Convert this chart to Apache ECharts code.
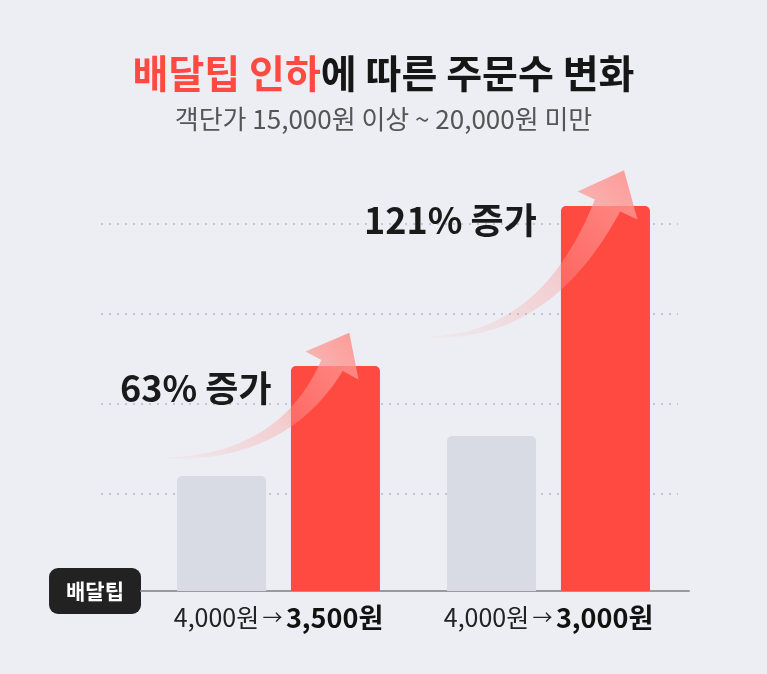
<!DOCTYPE html>
<html>
<head>
<meta charset="utf-8">
<script src="https://cdn.jsdelivr.net/npm/echarts@6/dist/echarts.min.js"></script>
<style>
html,body{margin:0;padding:0;background:#edeef3;}
#chart{width:767px;height:674px;}
</style>
</head>
<body>
<div id="chart"></div>
<script>
// 배달팁 변경 (전 -> 후)
const tipBefore = ['4,000원', '4,000원'];
const tipAfter = ['3,500원', '3,000원'];
// 주문수 (그림에서 읽은 상대값)
const beforeOrders = [115, 155];
const afterOrders = [225, 385];
const gridValues = [97, 187, 277, 367];
const increaseLabels = ['63% 증가', '121% 증가'];

const FONT = "'Noto Sans CJK KR', 'Noto Sans', sans-serif";

// 곡선 화살표 모양 (꼬리, 제어점, 머리 밑 중심)
function arrowPoints(p0, p1, p2, headLen, headHalf, w0, w1) {
  const left = [], right = [];
  const N = 40;
  for (let i = 0; i <= N; i++) {
    const t = i / N, u = 1 - t;
    const x = u*u*p0[0] + 2*u*t*p1[0] + t*t*p2[0];
    const y = u*u*p0[1] + 2*u*t*p1[1] + t*t*p2[1];
    let dx = 2*u*(p1[0]-p0[0]) + 2*t*(p2[0]-p1[0]);
    let dy = 2*u*(p1[1]-p0[1]) + 2*t*(p2[1]-p1[1]);
    const len = Math.sqrt(dx*dx+dy*dy);
    dx /= len; dy /= len;
    const w = (w0 + (w1 - w0) * Math.pow(t, 1.3)) / 2;
    left.push([x - dy*w, y + dx*w]);
    right.push([x + dy*w, y - dx*w]);
  }
  let dx = p2[0]-p1[0], dy = p2[1]-p1[1];
  const l = Math.sqrt(dx*dx+dy*dy); dx /= l; dy /= l;
  const tip = [p2[0] + dx*headLen, p2[1] + dy*headLen];
  const wl = [p2[0] - dy*headHalf, p2[1] + dx*headHalf];
  const wr = [p2[0] + dy*headHalf, p2[1] - dx*headHalf];
  return {
    points: left.concat([wl, tip, wr]).concat(right.reverse()),
    tip: tip
  };
}

function arrowGraphic(p0, p1, p2, headLen, headHalf, w1) {
  const a = arrowPoints(p0, p1, p2, headLen, headHalf, 1.5, w1);
  return {
    type: 'polygon',
    z: 100,
    shape: { points: a.points },
    style: {
      fill: {
        type: 'linear', global: true,
        x: p0[0], y: p0[1], x2: a.tip[0], y2: a.tip[1],
        colorStops: [
          { offset: 0, color: 'rgba(250,150,150,0.05)' },
          { offset: 0.5, color: 'rgba(252,150,148,0.35)' },
          { offset: 1, color: 'rgba(255,148,143,0.9)' }
        ]
      }
    }
  };
}

const chart = echarts.init(document.getElementById('chart'));

const option = {
  backgroundColor: '#edeef3',
  animation: false,
  title: [
    {
      left: 'center', top: 43,
      text: '{r|배달팁 인하}{k|에 따른 주문수 변화}',
      textStyle: {
        rich: {
          r: { fontFamily: FONT, fontSize: 39, fontWeight: 'bold', color: '#ff4a42', lineHeight: 50 },
          k: { fontFamily: FONT, fontSize: 39, fontWeight: 'bold', color: '#161616', lineHeight: 50 }
        }
      }
    },
    {
      left: 'center', top: 98,
      text: '객단가 15,000원 이상 ~ 20,000원 미만',
      textStyle: { fontFamily: FONT, fontSize: 26, fontWeight: 'normal', color: '#555', lineHeight: 32 }
    }
  ],
  grid: [
    { left: 143.5, right: 83.5, top: 191, bottom: 83 },
    { left: 101, right: 89, top: 191, bottom: 83 },
    { left: 141, right: 78, top: 191, bottom: 83 }
  ],
  xAxis: [
    {
      gridIndex: 0, type: 'category', data: tipAfter,
      axisLine: { show: false }, axisTick: { show: false },
      axisLabel: {
        margin: 13,
        formatter: function (v, i) {
          return '{a|' + tipBefore[i] + '} {m|→} {b|' + tipAfter[i] + '}';
        },
        rich: {
          a: { fontFamily: FONT, fontSize: 25, color: '#222' },
          m: { fontFamily: FONT, fontSize: 20, color: '#222' },
          b: { fontFamily: FONT, fontSize: 27, fontWeight: 'bold', color: '#111' }
        }
      }
    },
    {
      gridIndex: 1, type: 'value', min: 0, max: 1, show: false
    },
    {
      gridIndex: 2, type: 'value', min: 0, max: 1,
      axisLine: { show: true, onZero: false, lineStyle: { color: '#9a9a9e', width: 2 } },
      axisTick: { show: false }, axisLabel: { show: false }, splitLine: { show: false },
      name: '배달팁', nameLocation: 'start', nameGap: 0,
      nameTextStyle: {
        fontFamily: FONT, fontSize: 21, fontWeight: 'bold', color: '#fff',
        backgroundColor: '#222', borderRadius: 9, padding: [11, 17], lineHeight: 24
      }
    }
  ],
  yAxis: [
    { gridIndex: 0, type: 'value', min: 0, max: 400, show: false },
    { gridIndex: 1, type: 'value', min: 0, max: 400, show: false },
    { gridIndex: 2, type: 'value', min: 0, max: 400, show: false }
  ],
  series: [
    {
      name: '인하 전', type: 'bar', xAxisIndex: 0, yAxisIndex: 0,
      data: beforeOrders, barWidth: 89, barGap: '28%',
      itemStyle: { color: '#d8dbe4', borderRadius: [5, 5, 0, 0] }, z: 5
    },
    {
      name: '인하 후', type: 'bar', xAxisIndex: 0, yAxisIndex: 0,
      data: afterOrders, barWidth: 89, barGap: '28%',
      itemStyle: { color: '#ff4a42', borderRadius: [5, 5, 0, 0] }, z: 5
    },
    {
      type: 'line', xAxisIndex: 1, yAxisIndex: 1, data: [], silent: true,
      markLine: {
        symbol: 'none', silent: true, label: { show: false },
        lineStyle: { color: '#c3c5d8', width: 2, type: [2, 6] },
        data: gridValues.map(v => ({ yAxis: v }))
      }
    }
  ],
  graphic: [
    arrowGraphic([167, 458], [283, 458], [332, 365.5], 37, 30, 24),
    arrowGraphic([430, 337], [546, 337], [607.5, 205.5], 39, 33, 28),
    {
      type: 'text', x: 120, y: 388, z: 110,
      style: { text: increaseLabels[0], font: 'bold 36px ' + FONT, fill: '#1a1a1a', verticalAlign: 'middle' }
    },
    {
      type: 'text', x: 364, y: 220, z: 110,
      style: { text: increaseLabels[1], font: 'bold 36px ' + FONT, fill: '#1a1a1a', verticalAlign: 'middle' }
    }
  ]
};

chart.setOption(option);
</script>
</body>
</html>
